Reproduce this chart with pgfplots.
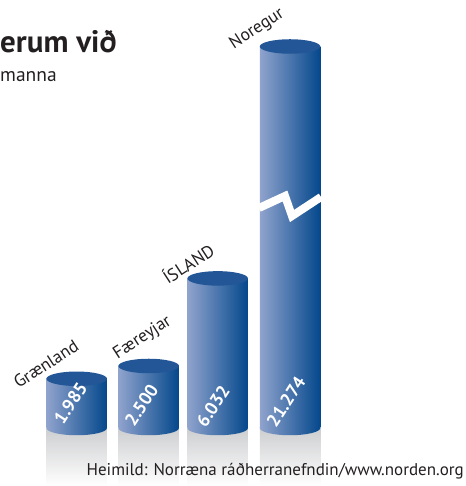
\documentclass[border=0pt]{standalone}
\usepackage{pgfplots}
\pgfplotsset{compat=1.18}
\usepackage{fontspec}
\setmainfont{PT Sans}
\usetikzlibrary{shapes.geometric}
\definecolor{cylL}{RGB}{144,163,205}
\definecolor{cylR}{RGB}{4,72,140}
\definecolor{topC}{RGB}{34,86,150}
\definecolor{refl}{RGB}{205,206,208}
\definecolor{txt}{RGB}{35,31,32}
\pgfplotsset{
  body/.style={ybar, bar shift=0pt, draw=none, left color=cylL, right color=cylR,
    nodes near coords={},
    every node near coord/.append style={ellipse, inner sep=0pt, minimum width=60.5pt,
       minimum height=14.5pt, fill=topC, anchor=center}},
  refl/.style={ybar, bar shift=0pt, draw=none, top color=refl, bottom color=white},
}
\begin{document}
\begin{tikzpicture}
\begin{axis}[
  name=ax,
  scale only axis, width=465pt, height=486pt,
  xmin=0, xmax=465, ymin=-2339, ymax=17258,
  hide axis, clip=false,
  bar width=60.5,
]
% reflections below the cylinders
\addplot[refl] coordinates {(76.7,-2339)};
\addplot[refl] coordinates {(148.7,-2339)};
\addplot[refl] coordinates {(217.7,-2339)};
\addplot[refl] coordinates {(290,-2339)};
% bottom ellipses
\addplot[ybar, bar shift=0pt, draw=none, fill=none,
  nodes near coords={},
  every node near coord/.append style={ellipse, inner sep=0pt, minimum width=60.5pt,
     minimum height=14.5pt, left color=cylL, right color=cylR, anchor=center}]
  coordinates {(76.7,0) (148.7,0) (217.7,0) (290,0)};
% cylinder bodies (Noregur drawn on a broken scale: real value 21274)
\addplot[body] coordinates {(76.7,1985)};   % Grænland
\addplot[body] coordinates {(148.7,2500)};  % Færeyjar
\addplot[body] coordinates {(217.7,6032)};  % Ísland
\addplot[body] coordinates {(290,15383)};   % Noregur (21274, broken)
% break mark on Noregur
\addplot[white, line width=8pt, line join=miter, miter limit=4]
  coordinates {(259,8871) (285,9355) (292,8548) (321,9315)};
% values inside the cylinders
\addplot[ybar, bar shift=0pt, draw=none, fill=none,
  point meta=explicit symbolic, nodes near coords,
  every node near coord/.append style={text=white, font=\bfseries\fontsize{18}{19}\selectfont,
     rotate=57, anchor=center, inner sep=0pt}]
  coordinates {(70.5,1008) [1.985] (141.5,927) [2.500] (213,887) [6.032] (286,1069) [21.274]};
% category names
\addplot[ybar, bar shift=0pt, draw=none, fill=none,
  point meta=explicit symbolic, nodes near coords,
  every node near coord/.append style={text=txt, font=\fontsize{17.5}{18}\selectfont,
     rotate=33, anchor=center, inner sep=0pt}]
  coordinates {(46,2581) [Grænland] (142.5,3629) [Færeyjar] (188,6653) [ÍSLAND] (257,16089) [Noregur]};
\node[anchor=base west, inner sep=0pt, text=txt, font=\bfseries\fontsize{31}{33}\selectfont]
  at (axis cs:0,15121) {erum við};
\node[anchor=base west, inner sep=0pt, text=txt, font=\fontsize{19.5}{21}\selectfont]
  at (axis cs:0,13952) {manna};
\node[anchor=base east, inner sep=0pt, text=txt, font=\fontsize{17}{18}\selectfont]
  at (axis cs:464,-1935) {Heimild: Norræna ráðherranefndin/www.norden.org};
\end{axis}
\pgfresetboundingbox
\path[use as bounding box] (ax.south west) rectangle (ax.north east);
\end{tikzpicture}
\end{document}
